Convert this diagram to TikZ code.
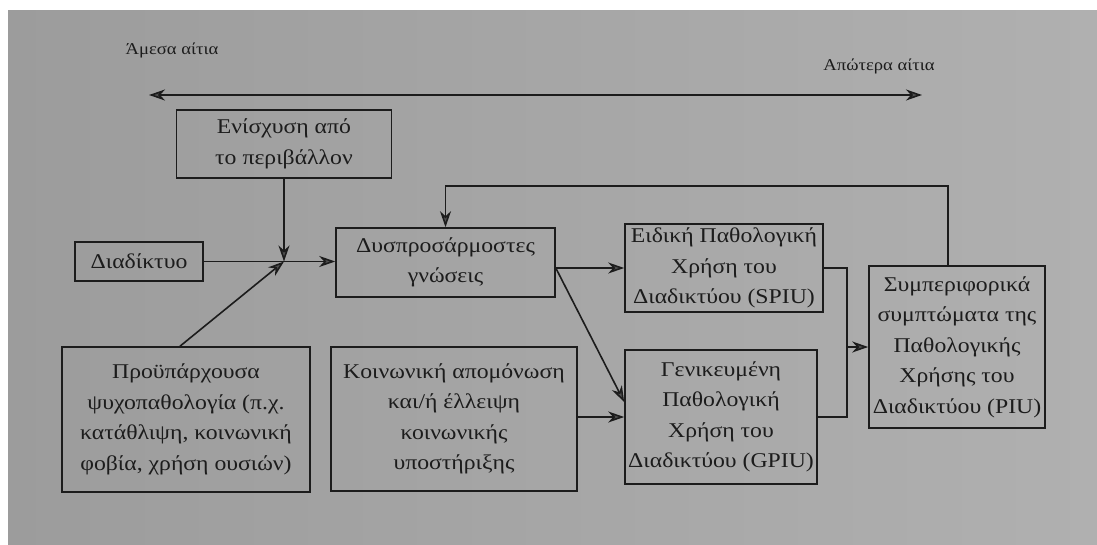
\documentclass[tikz,border=0pt]{standalone}
\usepackage{fontspec}
\setmainfont[FakeStretch=1.13]{Liberation Serif}
\usetikzlibrary{arrows.meta,calc}
\definecolor{bg}{RGB}{176,176,176}
\definecolor{bgdark}{RGB}{156,156,156}
\definecolor{ink}{RGB}{28,28,28}
\definecolor{tipc}{RGB}{80,80,80}
\begin{document}
\begin{tikzpicture}[x=1pt,y=-1pt,
  box/.style={draw=ink,line width=1.6pt,inner sep=0pt,align=center,text=ink,
    font=\fontsize{21}{30.5}\selectfont},
  conn/.style={draw=ink,line width=1.6pt},
  tip/.tip={Stealth[length=16pt,width=11pt,inset=5pt,fill=tipc]},
  arr/.style={conn,-tip},
  lbl/.style={text=ink,font=\fontsize{16.5}{20}\selectfont}]
\useasboundingbox (0,0) rectangle (1097,545);
\fill[white] (0,0) rectangle (1097,545);
\shade[left color=bgdark,right color=bg] (8,11) rectangle (1097,545);

\node[lbl] (near) at (172,50) {Άμεσα αίτια};
\node[lbl] (far) at (879,66) {Απώτερα αίτια};
\coordinate (tl) at (149,95);
\coordinate (tr) at (922,95);
\draw[conn,tip-tip] (tl) -- (tr);

\node[box,minimum width=215pt,minimum height=68pt] (env) at (284,144) {Ενίσχυση από\\το περιβάλλον};
\node[box,minimum width=128pt,minimum height=39pt] (inet) at (139,261.5) {Διαδίκτυο};
\node[box,minimum width=248pt,minimum height=145pt] (pre) at (186,419.5) {Προϋπάρχουσα\\ψυχοπαθολογία (π.χ.\\κατάθλιψη, κοινωνική\\φοβία, χρήση ουσιών)};
\node[box,minimum width=219pt,minimum height=69pt] (dys) at (445.5,262.5) {Δυσπροσάρμοστες\\γνώσεις};
\node[box,minimum width=246pt,minimum height=144pt] (soc) at (454,419) {Κοινωνική απομόνωση\\και/ή έλλειψη\\κοινωνικής\\υποστήριξης};
\node[box,minimum width=198pt,minimum height=88pt] (spiu) at (724,268) {Ειδική Παθολογική\\Χρήση του\\Διαδικτύου (SPIU)};
\node[box,minimum width=192pt,minimum height=134pt] (gpiu) at (721,417) {Γενικευμένη\\Παθολογική\\Χρήση του\\Διαδικτύου (GPIU)};
\node[box,minimum width=176pt,minimum height=162pt] (piu) at (957,347) {Συμπεριφορικά\\συμπτώματα της\\Παθολογικής\\Χρήσης του\\Διαδικτύου (PIU)};

% merge of causes
\coordinate (m) at (env.south |- inet.east);
\draw[arr] (inet.east) -- (inet.east -| dys.west);
\draw[arr] (env.south) -- (m);
\draw[arr] ([xshift=-6pt]pre.north) -- (m);

% cognitions to outcomes
\draw[arr] (dys.east |- spiu.west) -- (spiu.west);
\draw[arr] (dys.east |- spiu.west) -- ([yshift=15pt]gpiu.west);
\draw[arr] (soc.east |- gpiu.west) -- (gpiu.west);

% bracket to PIU
\coordinate (jt) at ([xshift=23pt]spiu.east);
\draw[conn] (spiu.east) -- (jt) -- (jt |- gpiu.east) -- (gpiu.east);
\draw[arr] (jt |- piu.west) -- (piu.west);

% feedback
\draw[arr] ([xshift=-9pt]piu.north) -- ++(0,-79) -| (dys.north);
\end{tikzpicture}
\end{document}
